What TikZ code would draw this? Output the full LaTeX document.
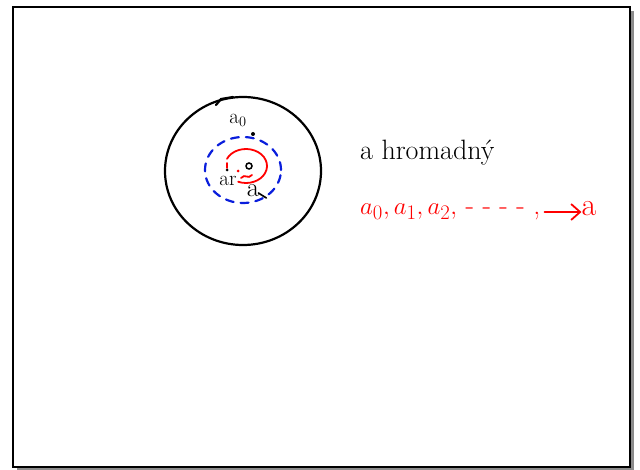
\documentclass[tikz,border=0pt]{standalone}
\usepackage{xcolor}
\usetikzlibrary{arrows.meta}
\definecolor{penred}{HTML}{FF0000}
\definecolor{penblue}{HTML}{0A1EDC}
\definecolor{shadowgrey}{HTML}{8C8C8C}

\tikzset{
  blackpen/.style={draw=black, line width=2.2pt, line cap=round, line join=round},
  bluepen/.style={draw=penblue, line width=2.2pt, dash pattern=on 8pt off 7pt, line cap=round},
  redpen/.style={draw=penred, line width=1.8pt, line cap=round, line join=round},
  pendot/.style={circle, fill=#1, inner sep=0pt, minimum size=4pt},
  smalllabel/.style={font=\fontsize{21}{21}\selectfont, inner sep=0pt}
}

\begin{document}
\begin{tikzpicture}[x=1pt, y=-1pt]
  \useasboundingbox (0,0) rectangle (640,470);
  % slide frame
  \fill[shadowgrey] (17,11) rectangle (634,471);
  \draw[fill=white, line width=2pt] (13,7) rectangle (630,467);

  % neighbourhoods of a
  \draw[blackpen] (243,171) ellipse [x radius=78pt, y radius=74pt];
  \draw[blackpen] (216,105) -- (221,99) -- (233,97);
  \draw[bluepen] (243,170) ellipse [x radius=38pt, y radius=33pt];
  \draw[redpen] (246,166) ++(155:21pt and 17pt)
    arc[start angle=155, end angle=-112, x radius=21pt, y radius=17pt];
  \draw[redpen] (227,163) -- (227,168);
  \draw[redpen] (241,178) .. controls (245,173) and (248,180) .. (252,175);

  % points
  \node[pendot=black] (dotzero) at (253,134) {};
  \node[pendot=black, minimum size=3pt] (dotr) at (227,170) {};
  \node[pendot=penred, minimum size=3pt] (dotred) at (238,171) {};
  \node[circle, draw, line width=1.5pt, inner sep=0pt, minimum size=6pt] (centre) at (249,166) {};
  \node[smalllabel] (labzero) at (238,120) {a$_0$};
  \node[smalllabel] (labr) at (228,181) {ar};
  \node[smalllabel, font=\fontsize{27}{27}\selectfont] (laba) at (253,191) {a};
  \draw[blackpen, line width=1.6pt] (laba.east) ++(-1,2) -- ++(8,5);

  % text on the right
  \node[anchor=west, inner sep=0pt, font=\fontsize{28}{28}\selectfont] (accum) at (360,153) {a hromadný};
  \node[anchor=west, inner sep=0pt, text=penred, font=\fontsize{28}{28}\selectfont] (seq) at (360,212)
    {$a_0, a_1, a_2,$ - - - - ,};
  \node[inner sep=0pt, text=penred, font=\fontsize{32}{32}\selectfont] (lim) at (589,209) {a};
  \draw[redpen, -{Straight Barb[length=9pt, width=16pt]}] (seq.east) ++(4,0) coordinate (seqend)
    (seqend) -- (seqend -| lim.west);
\end{tikzpicture}
\end{document}
